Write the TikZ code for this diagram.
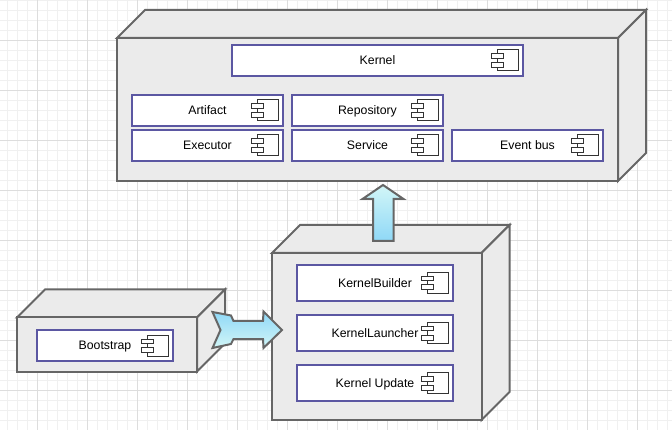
\documentclass[tikz,border=0pt]{standalone}
\usepackage{fontspec}
\setmainfont{Liberation Sans}
\definecolor{gridminor}{HTML}{F0F0F0}
\definecolor{gridmajor}{HTML}{DDDDDD}
\definecolor{boxline}{HTML}{666666}
\definecolor{boxfill}{HTML}{EBEBEB}
\definecolor{compline}{HTML}{5B57A2}
\definecolor{iconline}{HTML}{333333}
\definecolor{arrowdark}{HTML}{8FD8F7}
\definecolor{arrowlight}{HTML}{D2F6F7}
\tikzset{
  facestyle/.style={draw=boxline,fill=boxfill,line width=2pt,line join=miter},
  compstyle/.style={draw=compline,fill=white,line width=2pt,inner sep=0pt,outer sep=0pt,
    font=\fontsize{12.3}{14}\selectfont,text=black,text height=10.8pt,text depth=2.4pt},
  iconstyle/.style={draw=iconline,fill=white,line width=1pt},
  blockarrow/.style={draw=boxline,line width=2pt,line join=miter,miter limit=4}
}
% cube: name, x1, y1, x2, y2 of front face
\newcommand{\cubebox}[5]{%
  \draw[facestyle] (#2,#3) -- (#2+28,#3-28) -- (#4+28,#3-28) -- (#4,#3) -- cycle;
  \draw[facestyle] (#4,#3) -- (#4+28,#3-28) -- (#4+28,#5-28) -- (#4,#5) -- cycle;
  \node[facestyle,inner sep=0pt,outer sep=0pt,minimum width=#4-#2,minimum height=#5-#3,anchor=north west] (#1) at (#2,#3) {};
}
% component: name, x1, y1, x2, y2, text
\newcommand{\compbox}[6]{%
  \node[compstyle,minimum width=#4-#2,minimum height=#5-#3,anchor=north west] (#1) at (#2,#3) {#6};
  \draw[iconstyle] ([xshift=-26pt,yshift=10.5pt]#1.east) rectangle ([xshift=-5pt,yshift=-10.5pt]#1.east);
  \draw[iconstyle] ([xshift=-31.5pt,yshift=6.5pt]#1.east) rectangle ([xshift=-19.5pt,yshift=2pt]#1.east);
  \draw[iconstyle] ([xshift=-31.5pt,yshift=-2pt]#1.east) rectangle ([xshift=-19.5pt,yshift=-7pt]#1.east);
}
\begin{document}
\begin{tikzpicture}[x=1pt,y=-1pt]
\useasboundingbox (0,0) rectangle (672,430);
\fill[white] (0,0) rectangle (672,430);
% grid
\foreach \gx in {7,17,...,667} {\draw[gridminor,line width=0.9pt] (\gx.5,0) -- (\gx.5,430);}
\foreach \gy in {0,10,...,430} {\draw[gridminor,line width=0.9pt] (0,\gy.5) -- (672,\gy.5);}
\foreach \gx in {37,87,...,637} {\draw[gridmajor,line width=0.9pt] (\gx.5,0) -- (\gx.5,430);}
\foreach \gy in {40,90,...,390} {\draw[gridmajor,line width=0.9pt] (0,\gy.5) -- (672,\gy.5);}

% containers
\cubebox{kernelbox}{117}{38}{618}{181}
\cubebox{updatebox}{272}{253}{481.5}{420}
\cubebox{bootbox}{17}{317.5}{197}{371.5}

% components
\compbox{kernel}{232}{45}{523}{76}{Kernel}
\compbox{artifact}{132}{95}{283}{126}{Artifact}
\compbox{executor}{132}{130}{283}{161}{Executor}
\compbox{repository}{292}{95}{443}{126}{Repository}
\compbox{service}{292}{130}{443}{161}{Service}
\compbox{eventbus}{452}{130}{603}{161}{Event bus}
\compbox{bootstrap}{37}{330}{173}{361}{Bootstrap}
\compbox{builder}{297}{265}{453}{301}{KernelBuilder}
\compbox{launcher}{297}{315}{453}{351}{KernelLauncher}
\compbox{kupdate}{297}{365}{453}{401}{Kernel Update}

% block arrows
\draw[blockarrow,top color=arrowlight,bottom color=arrowdark]
  (383,185) -- (403.5,199) -- (393.5,199) -- (393.5,241) -- (373,241) -- (373,199) -- (362.5,199) -- cycle;
\draw[blockarrow,top color=arrowdark,bottom color=arrowlight]
  (212.5,312) -- (231,315.5) -- (233.5,321) -- (263,321) -- (263.5,311.5) -- (282,330) -- (263.5,348) -- (263,339) -- (233.5,339) -- (231,344) -- (212.5,348) -- (220.5,330) -- cycle;
\end{tikzpicture}
\end{document}
